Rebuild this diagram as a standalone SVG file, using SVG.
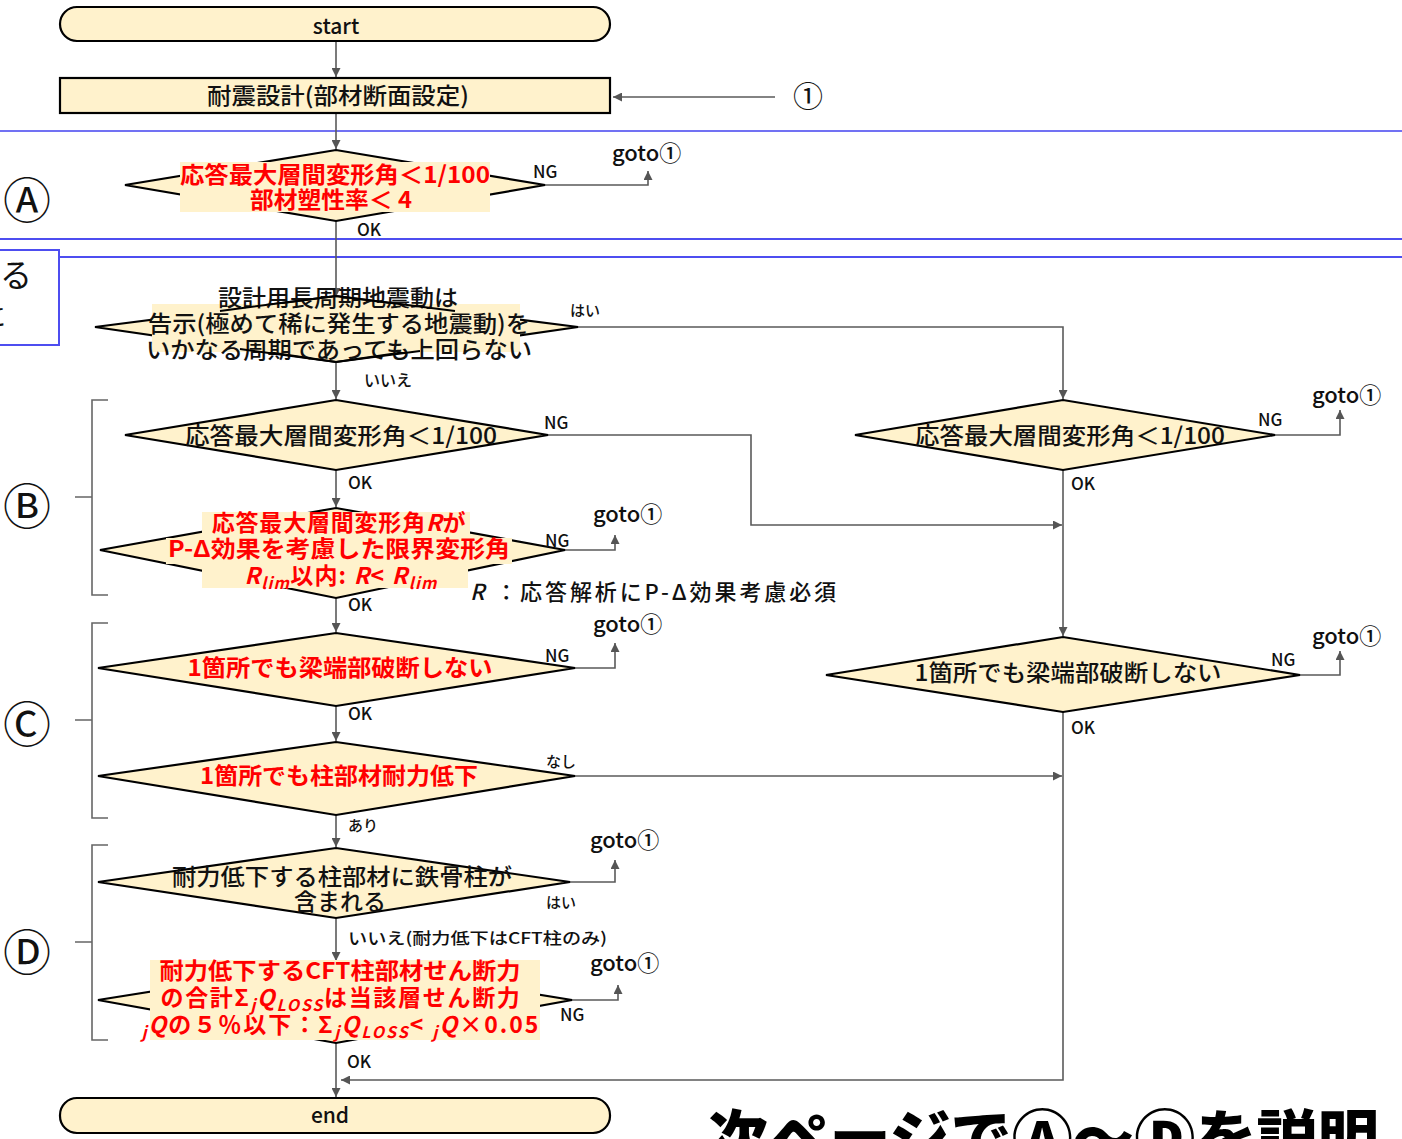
<svg xmlns="http://www.w3.org/2000/svg" width="1402" height="1139" viewBox="0 0 1402 1139">
<defs>
<marker id="ah" viewBox="0 0 10 10" refX="10" refY="5" markerWidth="11" markerHeight="9" markerUnits="userSpaceOnUse" orient="auto">
<path d="M0,0 L10,5 L0,10 z" fill="#555"/>
</marker>
</defs>
<style>
text{font-family:"Noto Sans CJK JP","Noto Sans",sans-serif;}
.term{fill:#FFF2CC;stroke:#000;stroke-width:2.2;}
.dia{fill:#FFF2CC;stroke:#000;stroke-width:2.2;stroke-linejoin:miter;}
.dline{fill:none;stroke:#000;stroke-width:2;}
.bg{fill:#FFF2CC;}
.con{fill:none;stroke:#5a5a5a;stroke-width:1.6;}
.arr{marker-end:url(#ah);}
.blue{stroke:#4d4df0;stroke-width:2;fill:none;}
.brk{fill:none;stroke:#666;stroke-width:1.6;}
.t{font-size:23px;fill:#111;text-anchor:middle;font-weight:500;}
.r{font-size:23px;fill:#ff0000;text-anchor:middle;font-weight:700;}
.lbl{font-size:17px;fill:#111;font-weight:500;}
.sm{font-size:15px;fill:#111;font-weight:500;}
.goto{font-size:22px;fill:#111;font-weight:500;}
.circ{font-size:48px;fill:#111;text-anchor:middle;}
.it{font-style:italic;}
</style>

<!-- section lines -->
<g id="sections">
<line class="blue" x1="0" y1="131" x2="1402" y2="131" stroke-opacity="0.8"/>
<line class="blue" x1="0" y1="239" x2="1402" y2="239"/>
<line class="blue" x1="60" y1="257" x2="1402" y2="257"/>
<rect class="blue" x="-10" y="250" width="69" height="95" fill="#fff"/>
<text x="0" y="287" style="font-size:32px;fill:#111">る</text>
<text x="-20" y="326" style="font-size:26px;fill:#111">に</text>
</g>

<!-- connectors -->
<g id="connectors">
<path class="con arr" d="M336,41 V77"/>
<path class="con arr" d="M775,97 H613"/>
<path class="con arr" d="M336,113 V149"/>
<path class="con arr" d="M545,185 H648 V171"/>
<path class="con arr" d="M336,221 V297"/>
<path class="con arr" d="M578,327 H1063 V399"/>
<path class="con arr" d="M336,362 V399"/>
<path class="con arr" d="M548,435 H751 V525 H1062"/>
<path class="con arr" d="M336,470 V507"/>
<path class="con arr" d="M565,550 H615 V535"/>
<path class="con arr" d="M336,598 V632"/>
<path class="con arr" d="M575,668 H615 V643"/>
<path class="con arr" d="M336,706 V741"/>
<path class="con arr" d="M575,776 H1062"/>
<path class="con arr" d="M336,815 V847"/>
<path class="con arr" d="M570,882 H615 V860"/>
<path class="con arr" d="M336,918 V961"/>
<path class="con arr" d="M572,1000 H618 V985"/>
<path class="con arr" d="M336,1043 V1097"/>
<path class="con arr" d="M1275,435 H1340 V410"/>
<path class="con arr" d="M1063,470 V636"/>
<path class="con arr" d="M1300,675 H1340 V651"/>
<path class="con arr" d="M1063,712 V1080 H341"/>
</g>

<!-- brackets and section marks -->
<g id="brackets">
<path class="brk" d="M108,400 H92 V595 H108 M92,497 H75"/>
<path class="brk" d="M108,623 H92 V818 H108 M92,720 H75"/>
<path class="brk" d="M108,845 H92 V1040 H108 M92,942 H75"/>
<text class="circ" x="27" y="218">Ⓐ</text>
<text class="circ" x="27" y="524">Ⓑ</text>
<text class="circ" x="27" y="742">Ⓒ</text>
<text class="circ" x="27" y="970">Ⓓ</text>
</g>

<g id="start">
<rect class="term" x="60" y="7" width="550" height="34" rx="17"/>
<text class="t" x="336" y="34" style="font-size:21px">start</text>
</g>

<g id="design">
<rect class="term" x="60" y="78" width="550" height="35"/>
<text class="t" x="338" y="104" textLength="262" lengthAdjust="spacingAndGlyphs">耐震設計(部材断面設定)</text>
<text x="808" y="107" style="font-size:30px;fill:#111;text-anchor:middle">①</text>
</g>

<g id="decA">
<polygon class="dia" points="125,185 336,150 545,185 336,221"/>
<rect class="bg" x="180" y="162" width="310" height="50"/>
<text class="r" x="335" y="183" textLength="310" lengthAdjust="spacingAndGlyphs">応答最大層間変形角＜1/100</text>
<text class="r" x="331" y="208" textLength="162" lengthAdjust="spacingAndGlyphs">部材塑性率＜ 4</text>
<text class="lbl" x="533" y="178">NG</text>
<text class="lbl" x="357" y="236">OK</text>
<text class="goto" x="612" y="161">goto①</text>
</g>

<g id="decLong">
<polygon class="dia" points="95,327 336,296 578,327 336,362"/>
<rect class="bg" x="152" y="304" width="368" height="48"/>
<text class="t" x="338" y="306" style="font-size:23px" textLength="240" lengthAdjust="spacingAndGlyphs">設計用長周期地震動は</text>
<text class="t" x="339" y="332" style="font-size:23px" textLength="382" lengthAdjust="spacingAndGlyphs">告示(極めて稀に発生する地震動)を</text>
<text class="t" x="339" y="358" style="font-size:23px" textLength="386" lengthAdjust="spacingAndGlyphs">いかなる周期であっても上回らない</text>
<polyline class="dline" points="220,311 336,296 455,311"/>
<polyline class="dline" points="240,349 336,362 420,351"/>
<text class="sm" x="570" y="316">はい</text>
<text class="sm" x="364" y="386" style="font-size:16px">いいえ</text>
</g>

<g id="decB1">
<polygon class="dia" points="125,435 336,400 548,435 336,470"/>
<text class="t" x="341" y="444" textLength="312" lengthAdjust="spacingAndGlyphs">応答最大層間変形角＜1/100</text>
<text class="lbl" x="544" y="429">NG</text>
<text class="lbl" x="348" y="489">OK</text>
</g>

<g id="decB2">
<polygon class="dia" points="100,550 336,508 565,550 336,598"/>
<rect class="bg" x="202" y="512" width="268" height="26"/>
<rect class="bg" x="166" y="538" width="346" height="26"/>
<rect class="bg" x="202" y="564" width="266" height="24"/>
<text class="r" x="339" y="531" style="letter-spacing:0.8px">応答最大層間変形角<tspan class="it">R</tspan>が</text>
<text class="r" x="339" y="557" textLength="342" lengthAdjust="spacingAndGlyphs">P-Δ効果を考慮した限界変形角</text>
<text class="r" x="341" y="584" style="letter-spacing:1.2px"><tspan class="it">R</tspan><tspan class="it" style="font-size:16px" dy="5">lim</tspan><tspan dy="-5">以内: </tspan><tspan class="it">R</tspan>&lt; <tspan class="it">R</tspan><tspan class="it" style="font-size:16px" dy="5">lim</tspan></text>
<text class="lbl" x="545" y="547">NG</text>
<text class="goto" x="593" y="522">goto①</text>
<text class="lbl" x="348" y="611">OK</text>
<text x="470" y="600" style="font-size:22px;fill:#111;font-weight:500;letter-spacing:2.9px"><tspan class="it">R</tspan> ：応答解析にP-Δ効果考慮必須</text>
</g>

<g id="decC1">
<polygon class="dia" points="98,668 336,633 575,668 336,706"/>
<text class="r" x="340" y="676" textLength="305" lengthAdjust="spacingAndGlyphs">1箇所でも梁端部破断しない</text>
<text class="lbl" x="545" y="662">NG</text>
<text class="goto" x="593" y="632">goto①</text>
<text class="lbl" x="348" y="720">OK</text>
</g>

<g id="decC2">
<polygon class="dia" points="98,776 336,742 575,776 336,815"/>
<text class="r" x="339" y="784" textLength="278" lengthAdjust="spacingAndGlyphs">1箇所でも柱部材耐力低下</text>
<text class="sm" x="546" y="767">なし</text>
<text class="sm" x="348" y="831">あり</text>
</g>

<g id="decD1">
<polygon class="dia" points="98,882 336,848 570,882 336,918"/>
<text class="t" x="342" y="885" textLength="340" lengthAdjust="spacingAndGlyphs">耐力低下する柱部材に鉄骨柱が</text>
<text class="t" x="340" y="910">含まれる</text>
<text class="sm" x="546" y="908">はい</text>
<text class="goto" x="590" y="848">goto①</text>
<text class="sm" x="348" y="944" style="font-size:16px" textLength="259" lengthAdjust="spacingAndGlyphs">いいえ(耐力低下はCFT柱のみ)</text>
</g>

<g id="decD2">
<polygon class="dia" points="98,1000 336,962 572,1000 336,1043"/>
<rect class="bg" x="150" y="960" width="390" height="80"/>
<text class="r" x="340" y="979" textLength="361" lengthAdjust="spacingAndGlyphs">耐力低下するCFT柱部材せん断力</text>
<text class="r" x="341" y="1006" style="letter-spacing:1.7px">の合計Σ<tspan class="it" style="font-size:16px" dy="5">j</tspan><tspan class="it" dy="-5">Q</tspan><tspan class="it" style="font-size:16px" dy="5">LOSS</tspan><tspan dy="-5">は当該層せん断力</tspan></text>
<text class="r" x="341" y="1033" style="letter-spacing:2px"><tspan class="it" style="font-size:16px" dy="5">j</tspan><tspan class="it" dy="-5">Q</tspan>の５％以下：Σ<tspan class="it" style="font-size:16px" dy="5">j</tspan><tspan class="it" dy="-5">Q</tspan><tspan class="it" style="font-size:16px" dy="5">LOSS</tspan><tspan dy="-5">&lt; </tspan><tspan class="it" style="font-size:16px" dy="5">j</tspan><tspan class="it" dy="-5">Q</tspan>×0.05</text>
<text class="lbl" x="560" y="1021">NG</text>
<text class="goto" x="590" y="971">goto①</text>
<text class="lbl" x="347" y="1068">OK</text>
</g>

<g id="decR1">
<polygon class="dia" points="855,435 1063,400 1275,435 1063,470"/>
<text class="t" x="1070" y="444" textLength="310" lengthAdjust="spacingAndGlyphs">応答最大層間変形角＜1/100</text>
<text class="lbl" x="1258" y="426">NG</text>
<text class="goto" x="1312" y="403">goto①</text>
<text class="lbl" x="1071" y="490">OK</text>
</g>

<g id="decR2">
<polygon class="dia" points="826,675 1063,637 1300,675 1063,712"/>
<text class="t" x="1068" y="681" textLength="307" lengthAdjust="spacingAndGlyphs">1箇所でも梁端部破断しない</text>
<text class="lbl" x="1271" y="666">NG</text>
<text class="goto" x="1312" y="644">goto①</text>
<text class="lbl" x="1071" y="734">OK</text>
</g>

<g id="end">
<rect class="term" x="60" y="1098" width="550" height="35" rx="17"/>
<text class="t" x="330" y="1123" style="font-size:21px">end</text>
</g>

<text x="707" y="1160" style="font-size:60px;font-weight:900;fill:#000" textLength="672" lengthAdjust="spacingAndGlyphs">次ページでⒶ～Ⓓを説明</text>
</svg>
